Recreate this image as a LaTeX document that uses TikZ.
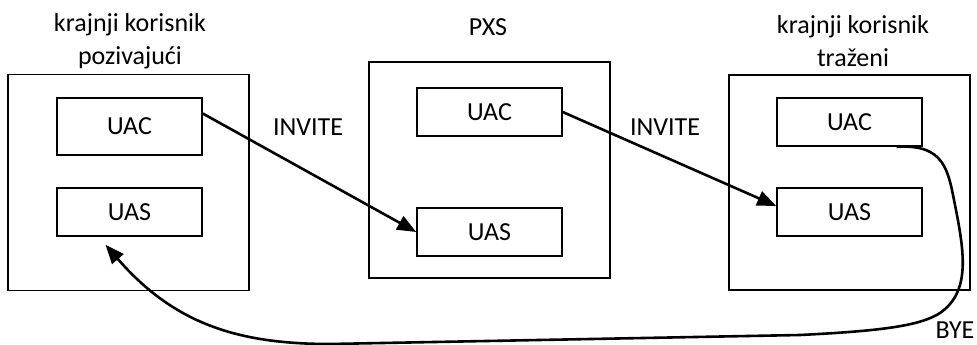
\documentclass[tikz,border=0pt]{standalone}
\usepackage{fontspec}
\setmainfont{Carlito}
\usetikzlibrary{arrows.meta}
\begin{document}
\begin{tikzpicture}[x=1pt,y=-1pt,
  every node/.style={font=\fontsize{26}{33}\selectfont},
  outerbox/.style={draw,line width=1.5pt,minimum width=241pt,minimum height=216pt,inner sep=0pt},
  agentbox/.style={draw,line width=1.5pt,minimum width=145pt,minimum height=48pt,inner sep=0pt},
  title/.style={align=center,inner sep=0pt},
  msg/.style={line width=2.6pt,-{Triangle[length=19pt,width=15pt]}},
  lbl/.style={inner sep=0pt}]
\useasboundingbox (0,0) rectangle (977,345);

% end user (caller)
\node[outerbox] (lend) at (128.5,182.5) {};
\node[agentbox,minimum height=57pt] (luac) at (129.5,126.5) {UAC};
\node[agentbox] (luas) at (129.5,212) {UAS};
\node[title] (ltitle) at (130,41) {krajnji korisnik\\pozivajući};

% proxy server
\node[outerbox] (pxs) at (489.5,170) {};
\node[agentbox] (muac) at (489.5,112) {UAC};
\node[agentbox] (muas) at (489.5,232) {UAS};
\node[title] (mtitle) at (488,27) {PXS};

% end user (callee)
\node[outerbox,minimum height=215pt] (rend) at (849.5,182.5) {};
\node[agentbox] (ruac) at (849.5,122) {UAC};
\node[agentbox] (ruas) at (849.5,212) {UAS};
\node[title] (rtitle) at (853,41) {krajnji korisnik\\traženi};

% messages
\draw[msg] ([yshift=13pt]luac.east) -- (muas.west);
\node[lbl] (inv1) at (308,127) {INVITE};
\draw[msg] (muac.east) -- ([yshift=6pt]ruas.west);
\node[lbl] (inv2) at (665,127) {INVITE};

\coordinate (byestart) at ([xshift=47pt]ruac.south);
\coordinate (byeend) at ([xshift=-24pt,yshift=-8pt]luas.south);
\draw[msg] (byestart) .. controls (945,144) and (948,170) .. (955,205)
  .. controls (965,255) and (970,292) .. (940,313)
  .. controls (920,326) and (880,331) .. (800,335)
  -- (330,344)
  .. controls (240,344) and (175,325) .. (byeend);
\node[lbl] (bye) at (955,330) {BYE};
\end{tikzpicture}
\end{document}
